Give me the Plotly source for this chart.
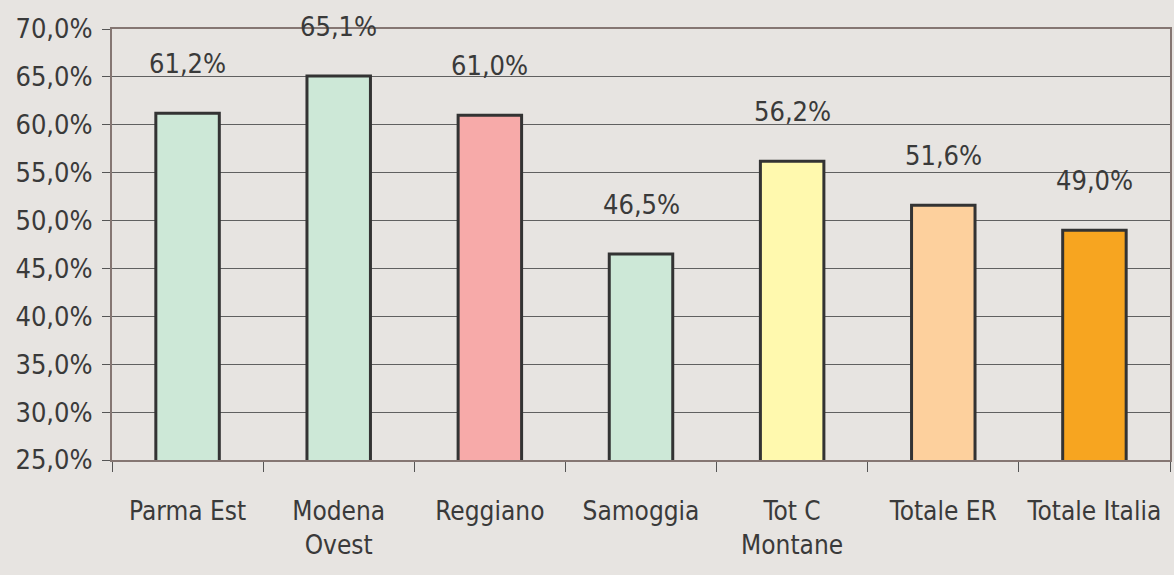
import plotly.graph_objects as go

# ── Data ──────────────────────────────────────────────────────────────────────
categories = ["Parma Est", "Modena<br>Ovest", "Reggiano", "Samoggia",
              "Tot C<br>Montane", "Totale ER", "Totale Italia"]
values     = [61.2, 65.1, 61.0, 46.5, 56.2, 51.6, 49.0]
labels     = ["61,2%", "65,1%", "61,0%", "46,5%", "56,2%", "51,6%", "49,0%"]
bar_colors = ["#cde8d7", "#cde8d7", "#f7aaa9", "#cde8d7",
              "#fff9ae", "#fdd09d", "#f7a520"]
tick_vals  = [25, 30, 35, 40, 45, 50, 55, 60, 65, 70]
tick_text  = ["25,0%", "30,0%", "35,0%", "40,0%", "45,0%",
              "50,0%", "55,0%", "60,0%", "65,0%", "70,0%"]

_FONT = "DejaVu Sans Condensed, Liberation Sans Narrow, Liberation Sans, sans-serif"
_SIZE = 26
_TEXT = "#3a3a3a"
_BG   = "#e7e4e1"
_EDGE = "#857672"

fig = go.Figure()
fig.add_trace(go.Bar(
    x=categories, y=values,
    base=0,
    marker=dict(color=bar_colors, line=dict(color="#333333", width=3)),
    hoverinfo="skip",
))

# value labels sit well above each bar
for cat, v, t in zip(categories, values, labels):
    fig.add_annotation(
        x=cat, y=v, text=t, showarrow=False,
        yanchor="bottom", yshift=32,
        font=dict(family=_FONT, size=27, color=_TEXT),
    )

fig.update_layout(
    width=1174, height=575,
    margin=dict(l=112, r=2, t=29, b=115),
    paper_bgcolor=_BG, plot_bgcolor=_BG,
    font=dict(family=_FONT, size=_SIZE, color=_TEXT),
    bargap=0.58,
    showlegend=False,
)
fig.update_xaxes(
    type="category",
    tickson="boundaries", tickangle=0,
    ticks="outside", ticklen=10, tickcolor="#555555", tickwidth=1,
    showline=True, linecolor=_EDGE, linewidth=2, mirror=True,
    showgrid=False,
    tickfont=dict(family=_FONT, size=_SIZE, color=_TEXT),
    ticklabelstandoff=27,
)
fig.update_yaxes(
    range=[25, 70],
    tickvals=tick_vals, ticktext=tick_text,
    ticks="outside", ticklen=8, tickcolor="#555555", tickwidth=1,
    showline=True, linecolor=_EDGE, linewidth=2, mirror=True,
    showgrid=True, gridcolor="#606060", gridwidth=1,
    zeroline=False,
    tickfont=dict(family=_FONT, size=27, color=_TEXT),
    ticklabelstandoff=4,
)

fig.write_html(
    "out.html",
    config={"displayModeBar": False},
    post_script="document.body.style.margin='0';document.body.style.padding='0';",
)
